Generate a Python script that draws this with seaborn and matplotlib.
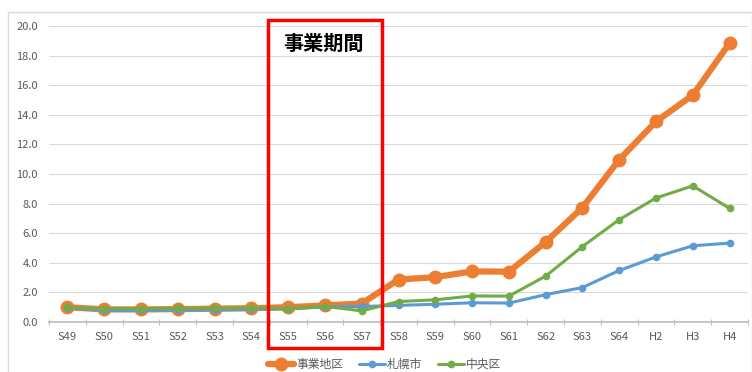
import matplotlib
matplotlib.use("Agg")
import matplotlib.pyplot as plt
import seaborn as sns
import numpy as np
import pandas as pd
from matplotlib.patches import Rectangle
from matplotlib.ticker import FixedLocator, FormatStrFormatter

categories = ["S49", "S50", "S51", "S52", "S53", "S54", "S55", "S56", "S57", "S58",
              "S59", "S60", "S61", "S62", "S63", "S64", "H2", "H3", "H4"]
jigyo = [1.0, 0.85, 0.85, 0.87, 0.9, 0.93, 1.0, 1.12, 1.25, 2.87, 3.03, 3.42, 3.4,
         5.4, 7.73, 10.97, 13.55, 15.33, 18.85]
sapporo = [0.97, 0.78, 0.78, 0.8, 0.82, 0.85, 0.9, 1.03, 1.05, 1.12, 1.2, 1.3, 1.28,
           1.85, 2.33, 3.48, 4.4, 5.15, 5.33]
chuo = [0.98, 0.9, 0.9, 0.92, 0.93, 0.95, 0.88, 1.06, 0.75, 1.38, 1.5, 1.76, 1.75,
        3.1, 5.1, 6.92, 8.38, 9.2, 7.68]
series_names = ["事業地区", "札幌市", "中央区"]
period_label = "事業期間"
period_start, period_end = "S55", "S57"

sns.set_theme(style="white")
plt.rcParams['font.family'] = ['Noto Sans CJK JP', 'DejaVu Sans']

pos = np.arange(len(categories))
df = pd.DataFrame({"pos": np.tile(pos, 3),
                   "value": jigyo + sapporo + chuo,
                   "series": np.repeat(series_names, len(categories))})

fig = plt.figure(figsize=(7.52, 3.72), dpi=100)
ax = fig.add_axes([49 / 752, 50 / 372, 699 / 752, 296 / 372])

colors = {"事業地区": "#ED7D31", "札幌市": "#5B9BD5", "中央区": "#70AD47"}
styles = {"事業地区": dict(linewidth=4.5, markersize=10),
          "札幌市": dict(linewidth=2.2, markersize=5.5),
          "中央区": dict(linewidth=2.2, markersize=5.5)}
for name in series_names:
    sub = df[df["series"] == name]
    sns.lineplot(data=sub, x="pos", y="value", ax=ax, color=colors[name],
                 marker="o", markeredgewidth=0, label=name, **styles[name])

ax.set_xlim(-0.5, len(categories) - 0.5)
ax.set_ylim(0, 20)
ax.set_xticks(pos)
ax.set_xticklabels(categories)
ax.xaxis.set_minor_locator(FixedLocator(np.arange(-0.5, len(categories), 1.0)))
ax.tick_params(axis="x", which="major", length=0, labelsize=8, labelcolor="#595959", pad=7)
ax.tick_params(axis="x", which="minor", length=5, color="#BFBFBF", width=0.8,
               direction="inout", bottom=True)
ax.set_yticks(np.arange(0, 20.1, 2))
ax.yaxis.set_major_formatter(FormatStrFormatter("%.1f"))
ax.tick_params(axis="y", length=0, labelsize=8, labelcolor="#595959", pad=8)
ax.grid(axis="y", color="#D9D9D9", linewidth=0.8)
ax.set_axisbelow(True)
for s in ["top", "right", "left"]:
    ax.spines[s].set_visible(False)
ax.spines["bottom"].set_color("#BFBFBF")
ax.set_xlabel("")
ax.set_ylabel("")

i0 = categories.index(period_start)
i1 = categories.index(period_end)
rect = Rectangle((i0 - 0.54, -1.75), (i1 - i0) + 1.08, 22.15, fill=False,
                 edgecolor="#FF0000", linewidth=2.5, clip_on=False, zorder=5)
ax.add_patch(rect)
ax.text((i0 + i1) / 2 - 0.03, 18.85, period_label, ha="center", va="center",
        fontsize=14.5, fontweight="bold", color="black")

ax.legend(loc="upper center", bbox_to_anchor=(0.48, -0.085), ncol=3, frameon=False,
          fontsize=8.5, handlelength=2.2, columnspacing=1.3, handletextpad=0.2,
          labelcolor="#595959")

fig.patches.append(Rectangle((8 / 752, -0.02), 0.99, (372 - 12) / 372 + 0.02, fill=False,
                             edgecolor="#D9D9D9", linewidth=1, transform=fig.transFigure))

fig.savefig("out.png", dpi=100)
